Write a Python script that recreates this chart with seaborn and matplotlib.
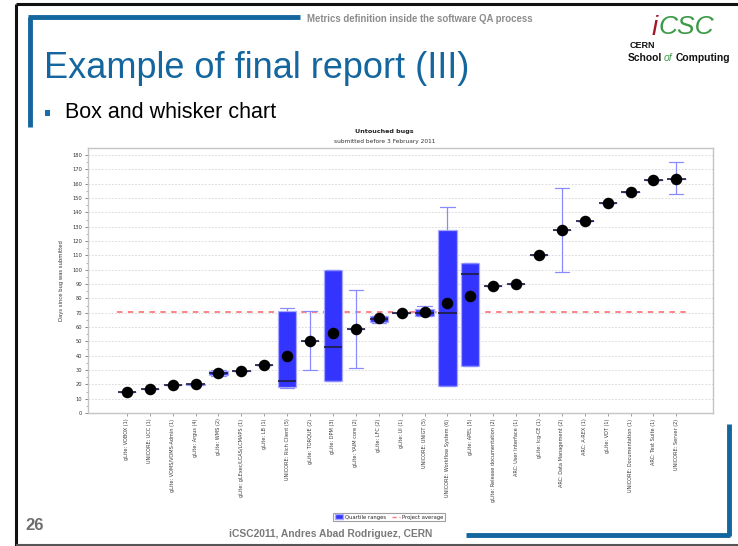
import numpy as np
import pandas as pd
import matplotlib
matplotlib.use("Agg")
import matplotlib.pyplot as plt
import seaborn as sns
from matplotlib.patches import Patch, Rectangle
from matplotlib.lines import Line2D

# ---------------- data ----------------
categories = [
    "gLite: VOBOX (1)", "UNICORE: UCC (1)", "gLite: VOMS/VOMS-Admin (1)", "gLite: Argus (4)",
    "gLite: WMS (2)", "gLite: gLExec/LCAS/LCMAPS (1)", "gLite: LB (1)", "UNICORE: Rich Client (5)",
    "gLite: TORQUE (2)", "gLite: DPM (3)", "gLite: YAIM core (2)", "gLite: LFC (2)",
    "gLite: UI (1)", "UNICORE: UNIGT (5)", "UNICORE: Workflow System (6)", "gLite: APEL (5)",
    "gLite: Release documentation (2)", "ARC: User Interface (1)", "gLite: lcg-CE (1)",
    "ARC: Data Management (2)", "ARC: A-REX (1)", "gLite: VDT (1)", "UNICORE: Documentation (1)",
    "ARC: Test Suite (1)", "UNICORE: Server (2)",
]
whisker_low  = [15, 16.5, 19.5, 19.5, 26, 29.5, 33.5, 17.5, 30, 22, 31.5, 63, 69.5, 67.5, 19, 33,
                88.5, 90, 110, 98.5, 134, 146.5, 154.5, 163, 153]
q1           = [15, 16.5, 19.5, 19.5, 26.5, 29.5, 33.5, 18, 50, 22.5, 58.5, 63.5, 69.5, 68, 19, 33,
                88.5, 90, 110, 127.5, 134, 146.5, 154.5, 163, 163.5]
median       = [15, 16.5, 19.5, 20, 28, 29.5, 33.5, 22, 50, 46, 58.5, 65.5, 69.5, 70, 70, 97,
                88.5, 90, 110, 127.5, 134, 146.5, 154.5, 163, 163.5]
q3           = [15, 16.5, 19.5, 20.5, 29.5, 29.5, 33.5, 71, 50, 99.5, 58.5, 67.5, 69.5, 72.5, 127.5, 105,
                88.5, 90, 110, 127.5, 134, 146.5, 154.5, 163, 163.5]
whisker_high = [15, 16.5, 19.5, 20.5, 30, 29.5, 33.5, 73, 71, 100, 86, 68, 69.5, 75, 143.5, 105,
                88.5, 90, 110, 157, 134, 146.5, 154.5, 163, 175.5]
mean_days    = [15, 16.5, 19.5, 20, 28, 29.5, 33.5, 40, 50.5, 56, 58.5, 66, 69.5, 70.5, 77, 81.5,
                88.5, 90, 110, 127.5, 134, 146.5, 154.5, 163, 163.5]
project_average = 70.5
y_ticks = list(range(0, 190, 10))

# long-form table of five-number summaries
rows = []
for c, a, b, m, d, e in zip(categories, whisker_low, q1, median, q3, whisker_high):
    for v in (a, b, m, d, e):
        rows.append((c, v))
df = pd.DataFrame(rows, columns=["component", "days"])

sns.set_style("white")
plt.rcParams["font.family"] = ["DejaVu Sans"]

W, H = 738, 546
fig = plt.figure(figsize=(W / 100, H / 100), dpi=100)

def fx(x):
    return x / W

def fy(y):
    return 1 - y / H

# ---------------- chart ----------------
ax = fig.add_axes([fx(88), fy(413), fx(713) - fx(88), fy(148) - fy(413)])

BOX_BLUE = "#3434ff"
sns.boxplot(data=df, x="component", y="days", order=categories, whis=(0, 100),
            width=0.8, color=BOX_BLUE, saturation=1, linecolor="#a8a8ff", linewidth=0.9,
            fliersize=0,
            medianprops=dict(color="#1c1c3c", linewidth=1.2),
            whiskerprops=dict(color="#8a8aff", linewidth=0.9),
            capprops=dict(color="#8a8aff", linewidth=0.9),
            capwidths=0.62, ax=ax, zorder=3)

sns.stripplot(x=categories, y=mean_days, order=categories, jitter=False, color="black",
              size=8.3, linewidth=0, ax=ax, zorder=6)

n = len(categories)
ax.hlines(project_average, -0.45, n - 1 + 0.45, colors="#ff7a7a",
          linestyles=(0, (3, 3)), linewidth=1.3, zorder=1.5)

ax.set_xlim(-1.7, n - 1 + 1.6)
ax.set_ylim(0, 185)
ax.set_yticks(y_ticks)
ax.set_yticks(np.arange(5, 185, 10), minor=True)
ax.yaxis.grid(True, which="major", linestyle=(0, (2, 2)), color="#d4d4d4", linewidth=0.6)
ax.set_axisbelow(True)
for s in ax.spines.values():
    s.set_color("#c4c4c4")
    s.set_linewidth(1.0)
ax.tick_params(axis="y", which="major", labelsize=3.7, length=2.5, width=0.5,
               colors="#555555", labelcolor="#333333", pad=1.5, left=True)
ax.tick_params(axis="y", which="minor", length=1.5, width=0.4, colors="#777777", left=True)
ax.tick_params(axis="x", labelsize=3.6, length=2, width=0.5, colors="#777777",
               labelcolor="#3a3a3a", rotation=90, pad=2, bottom=True)
for lab in ax.get_xticklabels():
    lab.set_verticalalignment("top")
ax.set_xlabel("")
ax.set_ylabel("Days since bug was submitted", fontsize=3.8, color="#333333", labelpad=6)

fig.text(fx(384), fy(131), "Untouched bugs", ha="center", va="center",
         fontsize=4.6, fontweight="bold", color="#222222")
fig.text(fx(385), fy(141), "submitted before 3 February 2011", ha="center", va="center",
         fontsize=4.2, color="#333333")

handles = [Patch(facecolor=BOX_BLUE, edgecolor="#a8a8ff", label="Quartile ranges"),
           Line2D([], [], color="#ff7a7a", linestyle=(0, (3, 2)), linewidth=1.0,
                  label="Project average")]
leg = fig.legend(handles=handles, loc="center", bbox_to_anchor=(fx(389), fy(517)), ncol=2,
                 fontsize=3.8, frameon=True, fancybox=False, edgecolor="#888888",
                 handlelength=1.6, handleheight=0.9, borderpad=0.35, columnspacing=1.0,
                 handletextpad=0.4, borderaxespad=0)
leg.get_frame().set_linewidth(0.8)

# ---------------- slide decoration ----------------
SLIDE_BLUE = "#14669f"
def fline(x0, y0, x1, y1, color, lw):
    fig.add_artist(Line2D([fx(x0), fx(x1)], [fy(y0), fy(y1)], color=color, linewidth=lw,
                          solid_capstyle="butt", transform=fig.transFigure))

fline(16, 4, 738, 4, "#111111", 2.2)
fline(16, 4, 16, 546, "#111111", 2.2)
fline(16, 544.5, 738, 544.5, "#555555", 1.5)
fline(28, 17, 300, 17, SLIDE_BLUE, 3.5)
fline(30, 17, 30, 127, SLIDE_BLUE, 3.5)
fline(729, 424, 729, 536, SLIDE_BLUE, 3.5)
fline(466, 535, 730, 535, SLIDE_BLUE, 3.5)

SL = ["Liberation Sans", "DejaVu Sans"]
fig.text(fx(307), fy(19), "Metrics definition inside the software QA process", ha="left",
         va="center", fontsize=6.9, fontweight="bold", color="#8c8c8c", family=SL)
fig.text(fx(44), fy(68), "Example of final report (III)", ha="left", va="center",
         fontsize=26, color=SLIDE_BLUE, family=SL)
fig.add_artist(Rectangle((fx(45), fy(116)), fx(5), fy(110) - fy(116), facecolor="#1a6cab",
                         edgecolor="none", transform=fig.transFigure))
fig.text(fx(65), fy(113), "Box and whisker chart", ha="left", va="center",
         fontsize=15.5, color="black", family=SL)
fig.text(fx(25), fy(526), "26", ha="left", va="center", fontsize=12, fontweight="bold",
         color="#6e6e6e", family=SL)
fig.text(fx(331), fy(534), "iCSC2011, Andres Abad Rodriguez, CERN", ha="center", va="center",
         fontsize=7.4, fontweight="bold", color="#7a7a7a", family=SL)

# logo
fig.text(fx(658), fy(28), "i", ha="right", va="center", fontsize=20, color="#a3162b",
         family=SL, style="italic")
fig.text(fx(659), fy(27), "CSC", ha="left", va="center", fontsize=19, color="#3c9a48",
         family=SL, style="italic")
fig.text(fx(630), fy(46), "CERN", ha="left", va="center", fontsize=6.5, fontweight="bold",
         color="#111111", family=SL)
fig.text(fx(628), fy(58), "School", ha="left", va="center", fontsize=7.4, fontweight="bold",
         color="#111111", family=SL)
fig.text(fx(664), fy(58), "of", ha="left", va="center", fontsize=7.4, style="italic",
         color="#3c9a48", family=SL)
fig.text(fx(676), fy(58), "Computing", ha="left", va="center", fontsize=7.4, fontweight="bold",
         color="#111111", family=SL)

fig.savefig("out.png", dpi=100)
